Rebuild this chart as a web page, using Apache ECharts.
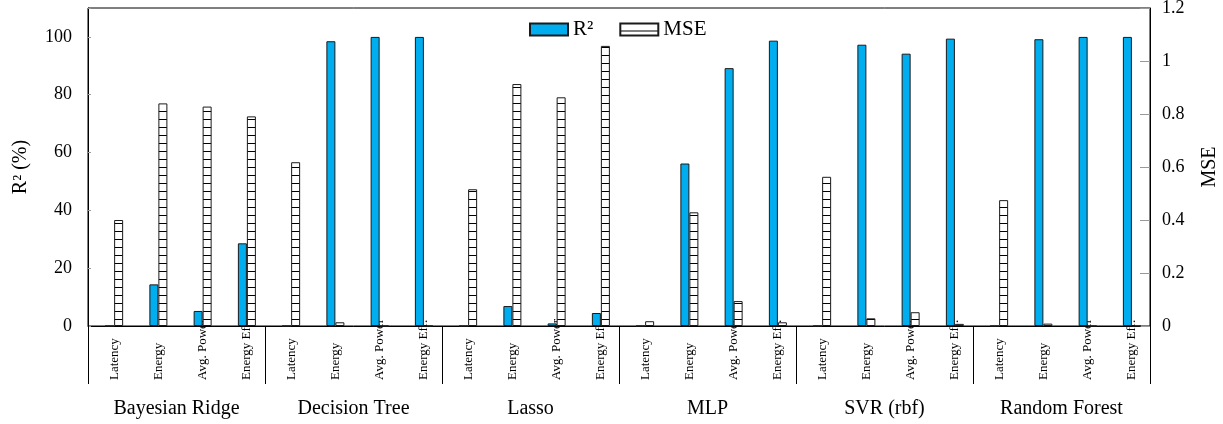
<!DOCTYPE html>
<html>
<head>
<meta charset="utf-8">
<script src="https://cdn.jsdelivr.net/npm/echarts@6/dist/echarts.min.js"></script>
<style>
  html, body { margin: 0; padding: 0; background: #fff; }
  #chart { width: 1223px; height: 424px; }
</style>
</head>
<body>
<div id="chart"></div>
<script>
// Models and prediction targets
const groups = ['Bayesian Ridge', 'Decision Tree', 'Lasso', 'MLP', 'SVR (rbf)', 'Random Forest'];
const targets = ['Latency', 'Energy', 'Avg. Power', 'Energy Eff.'];

// R² (%) per model/target, in the order groups × targets
const r2Values = [
  0, 14.4, 5.2, 28.6,
  0, 98.5, 100, 100,
  0, 6.9, 0.9, 4.5,
  0, 56.2, 89.2, 98.7,
  0, 97.3, 94.2, 99.4,
  0, 99.2, 100, 100
];

// MSE per model/target, same order
const mseValues = [
  0.40, 0.84, 0.828, 0.791,
  0.618, 0.014, 0, 0,
  0.516, 0.913, 0.863, 1.057,
  0.018, 0.429, 0.094, 0.014,
  0.563, 0.029, 0.052, 0.008,
  0.475, 0.009, 0, 0
];

// Axis ticks
const r2Ticks = { min: 0, max: 110, interval: 20, lastLabel: 100 };
const mseTicks = { min: 0, max: 1.2, interval: 0.2 };

const FONT = 'Liberation Serif';
const categories = [];
groups.forEach(g => targets.forEach(t => categories.push(g + '|' + t)));

// Horizontal-line hatch used for the MSE bars
function hatch() {
  const c = document.createElement('canvas');
  c.width = 8; c.height = 8;
  const ctx = c.getContext('2d');
  ctx.fillStyle = '#fff';
  ctx.fillRect(0, 0, 8, 8);
  ctx.fillStyle = '#000';
  ctx.fillRect(0, 7, 8, 1);
  return { image: c, repeat: 'repeat' };
}

const chart = echarts.init(document.getElementById('chart'), null, { renderer: 'canvas' });

chart.setOption({
  animation: false,
  textStyle: { fontFamily: FONT, color: '#000' },
  legend: {
    left: 529, top: 19, padding: 0,
    icon: 'rect',
    itemWidth: 38, itemHeight: 12, itemGap: 26,
    textStyle: { fontFamily: FONT, fontSize: 21, color: '#000' },
    data: ['R²', 'MSE']
  },
  grid: [
    // frame, value axes, model separators
    {
      left: 88, top: 8, width: 1062, height: 318, outerBoundsMode: 'none',
      show: true, borderColor: '#000', borderWidth: 1, backgroundColor: 'transparent'
    },
    // bars and target labels
    { left: 92, top: 8, width: 1062, height: 318, outerBoundsMode: 'none' }
  ],
  xAxis: [
    {
      gridIndex: 0, type: 'category', data: groups, position: 'bottom',
      axisLine: { lineStyle: { color: '#000', width: 1 } },
      axisTick: { show: true, length: 58, lineStyle: { color: '#000' } },
      axisLabel: { margin: 73, fontFamily: FONT, fontSize: 20, color: '#000', interval: 0 }
    },
    {
      gridIndex: 1, type: 'category', data: categories, position: 'bottom',
      axisLine: { show: false }, axisTick: { show: false },
      axisLabel: {
        interval: 0, rotate: 90, align: 'left', margin: 54,
        padding: [6, 0, 0, 0],
        fontFamily: FONT, fontSize: 13, color: '#000',
        formatter: v => v.split('|')[1]
      }
    }
  ],
  yAxis: [
    {
      gridIndex: 0, type: 'value', position: 'left',
      min: r2Ticks.min, max: r2Ticks.max, interval: r2Ticks.interval,
      name: 'R² (%)', nameLocation: 'middle', nameRotate: 90, nameGap: 57,
      nameTextStyle: { fontFamily: FONT, fontSize: 20, color: '#000' },
      axisLine: { show: true, lineStyle: { color: '#000' } },
      axisTick: { show: true, inside: true, length: 3, lineStyle: { color: '#999' } },
      axisLabel: {
        margin: 16, fontFamily: FONT, fontSize: 18, color: '#000',
        formatter: v => (v > r2Ticks.lastLabel ? '' : String(v))
      },
      splitLine: { show: false }
    },
    {
      gridIndex: 0, type: 'value', position: 'right',
      min: mseTicks.min, max: mseTicks.max, interval: mseTicks.interval,
      name: 'MSE', nameLocation: 'middle', nameRotate: 90, nameGap: 50,
      nameTextStyle: { fontFamily: FONT, fontSize: 20, color: '#000' },
      axisLine: { show: true, lineStyle: { color: '#000' } },
      axisTick: { show: true, inside: true, length: 10, lineStyle: { color: '#999' } },
      axisLabel: { margin: 12, fontFamily: FONT, fontSize: 18, color: '#000' },
      splitLine: { show: false }
    },
    {
      gridIndex: 1, type: 'value', min: r2Ticks.min, max: r2Ticks.max, interval: r2Ticks.interval,
      show: false, splitLine: { show: false }
    },
    {
      gridIndex: 1, type: 'value', min: mseTicks.min, max: mseTicks.max, interval: mseTicks.interval,
      show: false, splitLine: { show: false }
    }
  ],
  series: [
    {
      name: 'R²', type: 'bar', xAxisIndex: 1, yAxisIndex: 2,
      data: r2Values, barWidth: 9, barGap: '0%',
      itemStyle: { color: '#00AEEF', borderColor: '#1a1a1a', borderWidth: 1 }
    },
    {
      name: 'MSE', type: 'bar', xAxisIndex: 1, yAxisIndex: 3,
      data: mseValues, barWidth: 9, barGap: '0%',
      itemStyle: { color: hatch(), borderColor: '#1a1a1a', borderWidth: 1 }
    }
  ]
});
</script>
</body>
</html>
